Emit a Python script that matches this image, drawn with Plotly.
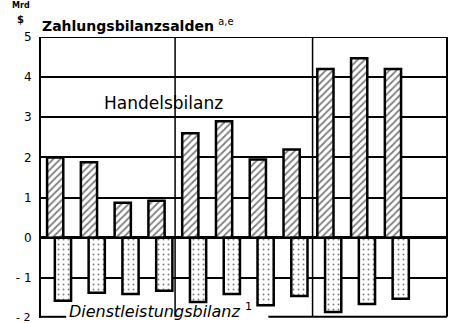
import plotly.graph_objects as go

# Balance of payments, billions of dollars, eleven periods in three blocks
periods = list(range(11))
handelsbilanz = [2.0, 1.88, 0.87, 0.92, 2.6, 2.9, 1.95, 2.2, 4.2, 4.47, 4.2]
dienstleistungsbilanz = [-1.57, -1.37, -1.4, -1.32, -1.6, -1.4, -1.68, -1.45, -1.85, -1.65, -1.52]
block_dividers = [3.55, 7.62]
y_ticks = [-1, 0, 1, 2, 3, 4, 5]
y_tick_text = ["- 1", "0", "1", "2", "3", "4", "5"]
y_bottom_label = "- 2"

bar_w = 0.48
shift = 0.23
font_main = "DejaVu Sans"
ink = "black"

fig = go.Figure()
fig.add_trace(go.Bar(
    x=periods, y=handelsbilanz, width=bar_w, offset=-bar_w / 2,
    marker=dict(color="white", line=dict(color=ink, width=2.5),
                pattern=dict(shape="/", fgcolor=ink, bgcolor="white", size=5, solidity=0.35)),
    showlegend=False, hoverinfo="skip",
))
fig.add_trace(go.Bar(
    x=periods, y=dienstleistungsbilanz, width=bar_w, offset=-bar_w / 2 + shift,
    marker=dict(color="white", line=dict(color=ink, width=2.5),
                pattern=dict(shape=".", fgcolor=ink, bgcolor="white", size=5, solidity=0.12)),
    showlegend=False, hoverinfo="skip",
))

line_style = dict(color=ink, width=2)
shapes = [
    # frame: top and right edges
    dict(type="line", xref="paper", yref="y", x0=0, x1=1, y0=5, y1=5, line=line_style),
    dict(type="line", xref="paper", yref="y", x0=1, x1=1, y0=-1.97, y1=5, line=line_style),
    # bottom edge, interrupted by the services label
    dict(type="line", xref="paper", yref="y", x0=0, x1=0.062, y0=-1.97, y1=-1.97, line=line_style),
    dict(type="line", xref="paper", yref="y", x0=0.56, x1=1, y0=-1.97, y1=-1.97, line=line_style),
]
for xv in block_dividers:
    shapes.append(dict(type="line", xref="x", yref="y", x0=xv, x1=xv, y0=-1.97, y1=5,
                       line=dict(color=ink, width=1.5), layer="below"))
fig.update_layout(shapes=shapes)

annotations = [
    dict(text="<b>Zahlungsbilanzsalden</b> <sup>a,e</sup>", xref="paper", yref="paper",
         x=-0.002, y=1.0, xanchor="left", yanchor="bottom", yshift=1,
         showarrow=False, font=dict(family=font_main, size=14, color=ink)),
    dict(text="<b>Mrd</b>", xref="paper", yref="paper", x=-0.05, y=1.0, xanchor="center",
         yanchor="middle", yshift=32, showarrow=False, font=dict(family=font_main, size=8, color=ink)),
    dict(text="<b>$</b>", xref="paper", yref="paper", x=-0.05, y=1.0, xanchor="center",
         yanchor="middle", yshift=18, showarrow=False, font=dict(family=font_main, size=10, color=ink)),
    dict(text=y_bottom_label, xref="paper", yref="y", x=-0.022, y=-2, xanchor="right",
         yanchor="middle", yshift=1, showarrow=False, font=dict(family=font_main, size=11, color=ink)),
    dict(text="Handelsbilanz", xref="x", yref="y", x=3.2, y=3.05, xanchor="center", yanchor="bottom",
         showarrow=False, font=dict(family=font_main, size=17, color=ink)),
    dict(text="<i>Dienstleistungsbilanz</i> <sup>1</sup>", xref="paper", yref="y", x=0.063, y=-1.97,
         xanchor="left", yanchor="bottom", yshift=-6,
         showarrow=False, font=dict(family=font_main, size=16, color=ink)),
]
fig.update_layout(annotations=annotations)

fig.update_layout(
    width=449, height=323,
    margin=dict(l=41, r=2, t=37, b=5),
    paper_bgcolor="white", plot_bgcolor="white",
    barmode="overlay",
    xaxis=dict(range=[-0.42, 11.6], showticklabels=False, showgrid=False, zeroline=False,
               fixedrange=True),
    yaxis=dict(range=[-2, 5], tickvals=y_ticks, ticktext=y_tick_text,
               showgrid=True, gridcolor=ink, gridwidth=1.5,
               zeroline=True, zerolinecolor=ink, zerolinewidth=3,
               showline=True, linecolor=ink, linewidth=2,
               ticks="", ticklen=0, ticklabelstandoff=5,
               tickfont=dict(family=font_main, size=12, color=ink),
               fixedrange=True),
)

fig.write_html("out.html")
